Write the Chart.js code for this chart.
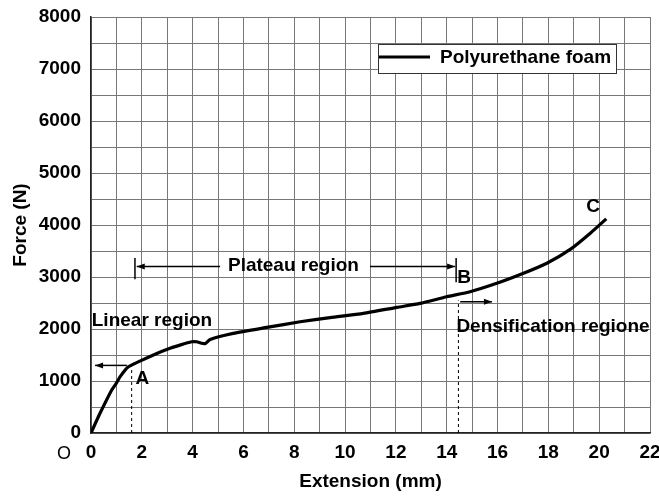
<!DOCTYPE html>
<html>
<head>
<meta charset="utf-8">
<script src="https://cdn.jsdelivr.net/npm/chart.js@4/dist/chart.umd.min.js"></script>
<style>
  html, body { margin: 0; padding: 0; background: #fff; }
  #wrap { width: 659px; height: 496px; }
</style>
</head>
<body>
<div id="wrap"><canvas id="foam"></canvas></div>
<script>
// extension (mm) and force (N)
const extension = [0, 0.35, 0.81, 1.0, 1.14, 1.47, 1.86, 2.59, 2.98, 3.5, 3.96, 4.16, 4.35, 4.5, 4.69,
  5.6, 6.92, 8.23, 9.41, 10.72, 12.04, 12.95, 14.0, 14.92, 15.97, 17.02, 17.94, 18.86, 19.65, 20.28];
const force = [0, 374, 823, 960, 1080, 1272, 1368, 1530, 1607, 1690, 1754, 1754, 1725, 1722, 1800,
  1915, 2030, 2139, 2220, 2300, 2416, 2493, 2620, 2717, 2878, 3071, 3264, 3530, 3842, 4118];

const xTicks = [0, 2, 4, 6, 8, 10, 12, 14, 16, 18, 20, 22];
const yTicks = [0, 1000, 2000, 3000, 4000, 5000, 6000, 7000, 8000];

const FONT = "'Liberation Sans', Arial, sans-serif";
const BOLD = 'bold 19px ' + FONT;

function arrow(ctx, x1, y1, x2, y2) {
  ctx.beginPath();
  ctx.moveTo(x1, y1);
  ctx.lineTo(x2, y2);
  ctx.stroke();
  const a = Math.atan2(y2 - y1, x2 - x1);
  ctx.beginPath();
  ctx.moveTo(x2, y2);
  ctx.lineTo(x2 - 8 * Math.cos(a) + 3 * Math.sin(a), y2 - 8 * Math.sin(a) - 3 * Math.cos(a));
  ctx.lineTo(x2 - 8 * Math.cos(a) - 3 * Math.sin(a), y2 - 8 * Math.sin(a) + 3 * Math.cos(a));
  ctx.closePath();
  ctx.fill();
}

const notes = {
  id: 'notes',
  afterDatasetsDraw(chart) {
    const ctx = chart.ctx;
    const x = chart.scales.x, y = chart.scales.y;
    const px = v => x.getPixelForValue(v);
    const py = v => y.getPixelForValue(v);
    ctx.save();
    ctx.fillStyle = '#000';
    ctx.strokeStyle = '#000';

    // dashed drop lines at A and B
    ctx.lineWidth = 1;
    ctx.setLineDash([3, 3]);
    ctx.beginPath();
    ctx.moveTo(px(1.6), py(0)); ctx.lineTo(px(1.6), py(1290));
    ctx.moveTo(px(14.46), py(0)); ctx.lineTo(px(14.46), py(2550));
    ctx.stroke();
    ctx.setLineDash([]);

    // arrows and region bars
    ctx.lineWidth = 1.5;
    arrow(ctx, px(1.41), py(1300), px(0.16), py(1300));
    arrow(ctx, px(5.08), py(3200), px(1.8), py(3200));
    arrow(ctx, px(10.98), py(3200), px(14.33), py(3200));
    arrow(ctx, px(14.53), py(2524), px(15.78), py(2524));
    ctx.beginPath();
    ctx.moveTo(px(1.73), py(2955)); ctx.lineTo(px(1.73), py(3365));
    ctx.moveTo(px(14.37), py(2900)); ctx.lineTo(px(14.37), py(3365));
    ctx.stroke();

    ctx.font = BOLD;
    ctx.textBaseline = 'middle';
    ctx.textAlign = 'left';
    ctx.fillText('Linear region', px(0.03), py(2150));
    ctx.fillText('A', px(1.75), py(1050));
    ctx.fillText('Plateau region', px(5.39), py(3212));
    ctx.fillText('B', px(14.41), py(2980));
    ctx.fillText('Densification regione', px(14.38), py(2043));
    ctx.textAlign = 'center';
    ctx.fillText('C', px(19.76), py(4360));

    // legend box
    const ds = chart.data.datasets[0];
    const bx = chart.chartArea.left + 287, by = chart.chartArea.top + 27;
    ctx.fillStyle = '#fff';
    ctx.fillRect(bx, by, 238, 29);
    ctx.strokeStyle = '#333';
    ctx.lineWidth = 1;
    ctx.strokeRect(bx + 0.5, by + 0.5, 238, 29);
    ctx.strokeStyle = ds.borderColor;
    ctx.lineWidth = 3;
    ctx.beginPath();
    ctx.moveTo(bx + 1, by + 13); ctx.lineTo(bx + 52, by + 13);
    ctx.stroke();
    ctx.fillStyle = '#000';
    ctx.textAlign = 'left';
    ctx.fillText(ds.label, bx + 62, by + 14);

    // origin mark
    ctx.font = '18px ' + FONT;
    ctx.textAlign = 'center';
    ctx.fillText('O', 64, 454);
    ctx.restore();
  }
};

new Chart(document.getElementById('foam'), {
  type: 'scatter',
  data: {
    datasets: [{
      label: 'Polyurethane foam',
      data: extension.map((e, i) => ({ x: e, y: force[i] })),
      showLine: true,
      borderColor: '#000',
      borderWidth: 3.2,
      pointRadius: 0,
      tension: 0.2
    }]
  },
  options: {
    responsive: true,
    maintainAspectRatio: false,
    animation: false,
    layout: { padding: { top: 17, right: 9, left: 0, bottom: 0 } },
    plugins: { legend: { display: false }, tooltip: { enabled: false } },
    scales: {
      x: {
        type: 'linear',
        min: 0, max: 22,
        afterFit(s) { s.height = 63; s.paddingLeft = 0; s.paddingRight = 0; },
        border: { color: '#222', width: 1.5 },
        grid: { color: '#777', drawTicks: false },
        ticks: {
          stepSize: 1, autoSkip: false, maxRotation: 0, padding: 8, color: '#000',
          font: { family: FONT, size: 19, weight: 'bold' },
          callback: v => xTicks.includes(v) ? v : ''
        },
        title: {
          display: true, text: 'Extension (mm)', color: '#000',
          font: { family: FONT, size: 19, weight: 'bold' },
          padding: { top: 0, bottom: 3 }
        }
      },
      y: {
        min: 0, max: 8000,
        afterFit(s) { s.width = 91; s.paddingTop = 0; s.paddingBottom = 0; },
        border: { color: '#222', width: 1.5 },
        grid: { color: '#777', drawTicks: false },
        ticks: {
          stepSize: 500, autoSkip: false, padding: 10, color: '#000',
          font: { family: FONT, size: 19, weight: 'bold' },
          callback: v => yTicks.includes(v) ? v : ''
        },
        title: {
          display: true, text: 'Force (N)', color: '#000',
          font: { family: FONT, size: 19, weight: 'bold' },
          padding: { top: 9, bottom: 0 }
        }
      }
    }
  },
  plugins: [notes]
});
</script>
</body>
</html>
